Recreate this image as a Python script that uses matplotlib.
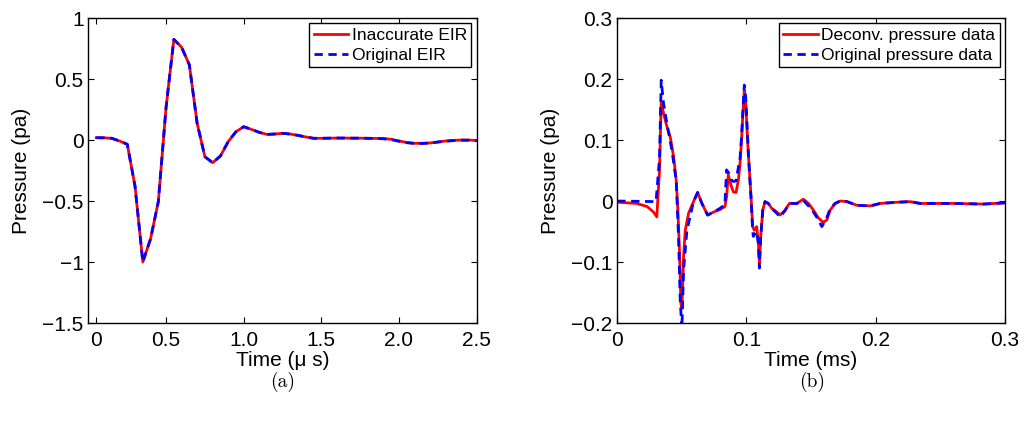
import numpy as np
import matplotlib
matplotlib.use("Agg")
import matplotlib.pyplot as plt

plt.rcParams['font.family'] = ['Liberation Sans', 'DejaVu Sans']

# (a) EIR, time in micro seconds
time_us = [0.05, 0.10, 0.15, 0.20, 0.25, 0.30, 0.35, 0.40, 0.45, 0.50,
           0.55, 0.60, 0.65, 0.70, 0.75, 0.80, 0.85, 0.90, 0.95, 1.00,
           1.05, 1.10, 1.15, 1.20, 1.25, 1.30, 1.35, 1.40, 1.45, 1.50,
           1.55, 1.60, 1.65, 1.70, 1.75, 1.80, 1.85, 1.90, 1.95, 2.00,
           2.05, 2.10, 2.15, 2.20, 2.25, 2.30, 2.35, 2.40, 2.45, 2.50]
eir_inaccurate = [0.019, 0.018, 0.014, -0.008, -0.035, -0.38, -1.0, -0.81, -0.505, 0.27,
                  0.825, 0.76, 0.615, 0.137, -0.137, -0.186, -0.131, -0.014, 0.068, 0.109,
                  0.087, 0.063, 0.046, 0.049, 0.055, 0.049, 0.038, 0.025, 0.014, 0.014,
                  0.015, 0.016, 0.016, 0.015, 0.015, 0.014, 0.013, 0.012, 0.006, -0.008,
                  -0.020, -0.027, -0.027, -0.024, -0.016, -0.008, -0.003, 0.000, 0.000, -0.004]
eir_original = [0.019, 0.018, 0.014, -0.008, -0.035, -0.38, -1.0, -0.81, -0.505, 0.27,
                0.825, 0.76, 0.615, 0.137, -0.137, -0.186, -0.131, -0.014, 0.068, 0.109,
                0.087, 0.063, 0.046, 0.049, 0.055, 0.049, 0.038, 0.025, 0.014, 0.014,
                0.015, 0.016, 0.016, 0.015, 0.015, 0.014, 0.013, 0.010, 0.003, -0.010,
                -0.022, -0.028, -0.028, -0.025, -0.017, -0.010, -0.005, -0.002, -0.002, -0.006]
xticks_a = [0.05, 0.5, 1.0, 1.5, 2.0, 2.5]
xticklabels_a = ['0', '0.5', '1.0', '1.5', '2.0', '2.5']

# (b) pressure, time in ms
time_deconv = [0, 0.015, 0.023, 0.028, 0.0306, 0.0327, 0.034, 0.0358, 0.0384, 0.041,
               0.0436, 0.0456, 0.0469, 0.0482, 0.0492, 0.0500, 0.0513, 0.0526, 0.0552, 0.059,
               0.0622, 0.0655, 0.0699, 0.0746, 0.0795, 0.0833, 0.0846, 0.0859, 0.088, 0.0898,
               0.0919, 0.0937, 0.095, 0.0963, 0.0975, 0.0983, 0.0994, 0.1014, 0.1035, 0.1048,
               0.106, 0.1079, 0.1092, 0.110, 0.111, 0.1126, 0.1143, 0.1169, 0.1195, 0.1234,
               0.126, 0.1298, 0.1332, 0.1363, 0.139, 0.144, 0.148, 0.1518, 0.1557, 0.1595,
               0.1622, 0.1647, 0.1686, 0.1725, 0.1777, 0.1854, 0.1957, 0.2035, 0.2164, 0.2267,
               0.2345, 0.26, 0.2836, 0.3]
p_deconv = [-0.002, -0.004, -0.009, -0.018, -0.026, 0.051, 0.163, 0.144, 0.122, 0.105,
            0.073, 0.034, -0.015, -0.086, -0.168, -0.176, -0.091, -0.048, -0.020, -0.001,
            0.014, -0.004, -0.023, -0.018, -0.014, -0.009, 0.007, 0.043, 0.026, 0.015,
            0.014, 0.034, 0.062, 0.105, 0.155, 0.182, 0.160, 0.078, 0.007, -0.042,
            -0.048, -0.042, -0.069, -0.102, -0.058, -0.015, -0.001, -0.004, -0.012, -0.018,
            -0.023, -0.015, -0.004, -0.004, -0.004, 0.003, -0.004, -0.015, -0.028, -0.035,
            -0.031, -0.015, -0.004, 0.000, -0.001, -0.007, -0.008, -0.004, -0.002, -0.001,
            -0.004, -0.004, -0.005, -0.003]
time_orig = [0, 0.030, 0.0327, 0.034, 0.0358, 0.0384, 0.0422, 0.0456, 0.0474, 0.0487,
             0.0500, 0.0513, 0.0539, 0.059, 0.0622, 0.0655, 0.0699, 0.0746, 0.0795, 0.0833,
             0.0846, 0.0865, 0.088, 0.0898, 0.0919, 0.0937, 0.095, 0.0963, 0.0975, 0.0983,
             0.0994, 0.1014, 0.1035, 0.1048, 0.1053, 0.1079, 0.1092, 0.110, 0.111, 0.1126,
             0.1143, 0.1169, 0.1195, 0.1234, 0.126, 0.1298, 0.1332, 0.1363, 0.139, 0.144,
             0.148, 0.1518, 0.1557, 0.1583, 0.1622, 0.1647, 0.1686, 0.1725, 0.1777, 0.1854,
             0.1957, 0.2035, 0.2164, 0.2267, 0.2345, 0.26, 0.2836, 0.3]
p_orig = [0.000, -0.001, 0.070, 0.198, 0.160, 0.127, 0.084, 0.034, -0.058, -0.162,
          -0.210, -0.113, -0.048, -0.001, 0.014, -0.004, -0.023, -0.018, -0.012, -0.006,
          0.051, 0.045, 0.035, 0.032, 0.033, 0.055, 0.070, 0.110, 0.160, 0.190,
          0.170, 0.080, 0.005, -0.050, -0.058, -0.050, -0.070, -0.110, -0.060, -0.015,
          -0.001, -0.004, -0.012, -0.020, -0.026, -0.016, -0.004, -0.004, -0.004, 0.001,
          -0.008, -0.018, -0.031, -0.042, -0.027, -0.013, -0.004, 0.000, -0.001, -0.007,
          -0.008, -0.004, -0.002, -0.001, -0.004, -0.004, -0.005, -0.003]

fig = plt.figure(figsize=(10.24, 4.28), dpi=100)
ax1 = fig.add_axes([0.0864, 0.2453, 0.3790, 0.7126])
ax2 = fig.add_axes([0.6028, 0.2453, 0.3786, 0.7126])

ax1.plot(time_us, eir_inaccurate, color='red', lw=2, label='Inaccurate EIR')
ax1.plot(time_us, eir_original, color='blue', lw=2, ls='--', dashes=(3, 2), label='Original EIR')
ax1.set_xlim(0, 2.5)
ax1.set_ylim(-1.5, 1)
ax1.set_xticks(xticks_a)
ax1.set_xticklabels(xticklabels_a)
ax1.set_yticks([-1.5, -1, -0.5, 0, 0.5, 1])
ax1.set_yticklabels(['\u22121.5', '\u22121', '\u22120.5', '0', '0.5', '1'])
ax1.set_xlabel('Time (\u03bc s)', fontsize=15, labelpad=1)
ax1.set_ylabel('Pressure (pa)', fontsize=15, labelpad=8)

ax2.plot(time_deconv, p_deconv, color='red', lw=2, label='Deconv. pressure data')
ax2.plot(time_orig, p_orig, color='blue', lw=2, ls='--', dashes=(3, 2), label='Original pressure data')
ax2.set_xlim(0, 0.3)
ax2.set_ylim(-0.2, 0.3)
ax2.set_xticks([0, 0.1, 0.2, 0.3])
ax2.set_xticklabels(['0', '0.1', '0.2', '0.3'])
ax2.set_yticks([-0.2, -0.1, 0, 0.1, 0.2, 0.3])
ax2.set_yticklabels(['\u22120.2', '\u22120.1', '0', '0.1', '0.2', '0.3'])
ax2.set_xlabel('Time (ms)', fontsize=15, labelpad=1)
ax2.set_ylabel('Pressure (pa)', fontsize=15, labelpad=8)

for ax in (ax1, ax2):
    ax.tick_params(direction='in', length=4, width=0.8, top=True, right=True,
                   labelsize=15, pad=3.5)
    ax.tick_params(axis='x', pad=5.5)
    for s in ax.spines.values():
        s.set_linewidth(1.0)
    leg = ax.legend(loc='upper right', fontsize=12.5, fancybox=False, framealpha=1,
                    edgecolor='black', borderpad=0.25, labelspacing=0.3,
                    handlelength=2.0, handletextpad=0.2, borderaxespad=0.3)
    leg.get_frame().set_linewidth(1.0)

fig.text(0.276, 0.108, '(a)', fontsize=14, family='cmr10', ha='center', va='center')
fig.text(0.793, 0.108, '(b)', fontsize=14, family='cmr10', ha='center', va='center')

fig.savefig('out.png', dpi=100)
